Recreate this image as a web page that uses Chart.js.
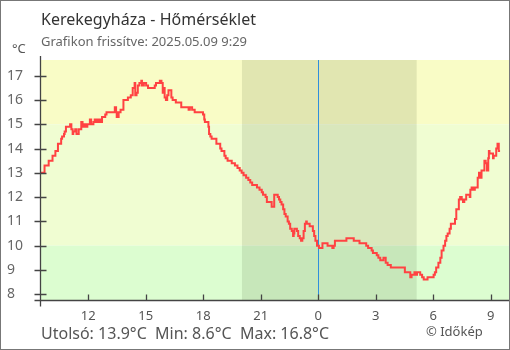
<!DOCTYPE html>
<html>
<head>
<meta charset="utf-8">
<script src="https://cdn.jsdelivr.net/npm/chart.js@4"></script>
<style>
  html, body { margin: 0; padding: 0; background: #fff; }
  canvas { display: block; }
</style>
</head>
<body>
<canvas id="chart" width="510" height="350"></canvas>
<script>
const station = 'Kerekegyháza - Hőmérséklet';
const updated = 'Grafikon frissítve: 2025.05.09 9:29';

// measurements, previous day 9:29 -> today 9:29
const times = [
  '9:29','9:43','9:46','9:56','9:58','10:08','10:09','10:17','10:19','10:25',
  '10:27','10:35','10:38','10:44','10:46','10:50','10:55','11:03','11:07','11:11',
  '11:13','11:19','11:23','11:30','11:32','11:38','11:42','11:47','11:53','11:57',
  '12:05','12:09','12:16','12:20','12:26','12:32','12:37','12:43','12:47','12:53',
  '12:57','13:02','13:23','13:27','13:29','13:35','13:41','13:50','13:56','14:04',
  '14:13','14:19','14:25','14:27','14:31','14:35','14:40','14:46','14:48','14:54',
  '15:01','15:07','15:11','15:28','15:32','15:36','15:44','15:49','15:53','15:55',
  '15:59','16:03','16:07','16:11','16:16','16:20','16:24','16:34','16:38','16:51',
  '16:59','17:14','17:18','17:25','17:33','17:46','17:59','18:03','18:05','18:10',
  '18:16','18:18','18:22','18:26','18:33','18:41','18:47','18:53','18:57','19:06',
  '19:10','19:16','19:29','19:39','19:47','19:54','20:00','20:06','20:14','20:21',
  '20:27','20:33','20:42','20:48','20:56','21:03','21:07','21:15','21:19','21:28',
  '21:34','21:38','21:42','21:44','21:53','21:57','22:01','22:05','22:10','22:14',
  '22:18','22:24','22:28','22:32','22:37','22:41','22:43','22:45','22:49','22:53',
  '22:57','23:02','23:06','23:10','23:14','23:18','23:22','23:24','23:33','23:35',
  '23:43','23:47','23:51','23:56','0:02','0:08','0:13','0:17','0:27','0:29',
  '0:31','0:44','0:48','0:52','0:58','1:13','1:28','1:30','1:51','1:55',
  '2:09','2:11','2:30','2:36','2:47','2:51','2:57','3:03','3:08','3:14',
  '3:24','3:31','3:37','3:47','3:54','4:17','4:25','4:31','4:37','4:41',
  '4:48','4:52','4:56','5:01','5:05','5:09','5:13','5:19','5:25','5:30',
  '5:36','5:42','5:46','6:01','6:05','6:09','6:16','6:22','6:26','6:32',
  '6:37','6:41','6:45','6:51','6:55','6:59','7:04','7:08','7:12','7:14',
  '7:20','7:24','7:29','7:33','7:37','7:43','7:47','7:54','7:56','8:00',
  '8:06','8:10','8:14','8:19','8:23','8:25','8:27','8:31','8:35','8:40',
  '8:44','8:48','8:50','8:52','8:54','8:56','9:02','9:07','9:09','9:13',
  '9:17','9:21','9:25','9:29'
];
const temps = [
  13.0,13.0,13.3,13.3,13.5,13.5,13.7,13.7,13.9,13.9,
  14.2,14.2,14.4,14.5,14.6,14.7,14.9,14.9,15.0,14.8,
  14.6,14.7,14.8,14.6,14.8,14.8,15.1,14.9,15.0,14.9,
  15.0,15.2,15.0,15.1,15.2,15.1,15.2,15.1,15.3,15.3,
  15.4,15.5,15.5,15.7,15.5,15.3,15.5,15.6,16.0,16.0,
  16.1,16.2,16.5,16.7,16.2,16.3,16.6,16.7,16.8,16.6,
  16.7,16.6,16.5,16.5,16.6,16.7,16.7,16.8,16.7,16.3,
  16.5,16.1,16.0,16.2,16.4,16.4,16.1,16.0,15.9,15.9,
  15.7,15.7,15.6,15.7,15.6,15.5,15.5,15.4,15.2,15.1,
  15.1,14.9,14.6,14.5,14.4,14.4,14.2,14.2,14.0,13.9,
  13.7,13.6,13.5,13.4,13.3,13.2,13.1,13.0,12.9,12.8,
  12.7,12.6,12.5,12.5,12.4,12.3,12.2,12.1,12.0,11.8,
  11.8,11.6,11.6,12.1,12.1,12.0,11.9,11.8,11.7,11.5,
  11.3,11.2,11.0,10.9,10.7,10.6,10.4,10.5,10.7,10.7,
  10.6,10.4,10.3,10.2,10.3,10.6,10.9,11.0,10.9,10.8,
  10.8,10.6,10.4,10.2,10.0,9.9,9.9,10.1,10.1,10.1,
  10.0,10.0,9.9,10.0,10.2,10.2,10.2,10.3,10.3,10.2,
  10.2,10.1,10.1,10.0,9.9,9.8,9.7,9.7,9.6,9.5,
  9.4,9.5,9.3,9.2,9.1,9.1,9.1,9.1,8.9,8.9,
  8.9,8.7,8.8,8.8,8.9,8.8,8.9,8.9,8.8,8.7,
  8.6,8.6,8.7,8.7,8.8,8.9,9.1,9.3,9.5,9.8,
  10.0,10.2,10.4,10.5,10.7,10.9,10.9,10.9,11.1,11.5,
  11.5,11.9,12.0,11.9,11.8,11.9,12.1,12.1,12.0,12.3,
  12.4,12.3,12.4,12.4,12.8,13.0,12.8,12.8,13.1,13.1,
  13.5,13.4,13.1,13.1,13.6,13.9,13.8,13.8,13.6,13.7,
  13.7,14.0,14.2,13.9
];

const xTickHours = [12, 15, 18, 21, 24, 27, 30, 33];
const yTicks = [8, 9, 10, 11, 12, 13, 14, 15, 16, 17];
const sunset = '20:01';
const sunrise = '5:08';

// background bands by temperature
const bands = [
  { from: 15, to: 100, color: '#f9fcc6' },
  { from: 10, to: 15, color: '#f0fdd2' },
  { from: -100, to: 10, color: '#dcfdd0' }
];

function toHours(list) {
  let day = 0, prev = -1;
  return list.map(s => {
    const [h, m] = s.split(':').map(Number);
    let v = h + m / 60 + day;
    if (v < prev) { day += 24; v += 24; }
    prev = v;
    return v;
  });
}

const hours = toHours(times);
const points = hours.map((h, i) => ({ x: h, y: temps[i] }));
const [nightStart, nightEnd] = toHours([sunset, sunrise]);

const last = temps[temps.length - 1];
const minT = Math.min(...temps);
const maxT = Math.max(...temps);
const fmt = v => v.toFixed(1) + '°C';
const footer = 'Utolsó: ' + fmt(last) + '  Min: ' + fmt(minT) + '  Max: ' + fmt(maxT);

const backdrop = {
  id: 'backdrop',
  beforeDatasetsDraw(chart) {
    const { ctx, chartArea: a, scales: { x, y } } = chart;
    ctx.save();
    bands.forEach(b => {
      const top = Math.max(a.top, y.getPixelForValue(b.to));
      const bot = Math.min(a.bottom, y.getPixelForValue(b.from));
      ctx.fillStyle = b.color;
      ctx.fillRect(a.left, top, a.right - a.left, bot - top);
    });
    const n1 = x.getPixelForValue(nightStart);
    const n2 = x.getPixelForValue(nightEnd);
    ctx.fillStyle = 'rgba(20,40,0,0.1)';
    ctx.fillRect(n1, a.top, n2 - n1, a.bottom - a.top);
    const mid = Math.round(x.getPixelForValue(24)) + 0.5;
    ctx.strokeStyle = '#2f8fdc';
    ctx.lineWidth = 1;
    ctx.beginPath();
    ctx.moveTo(mid, a.top);
    ctx.lineTo(mid, a.bottom);
    ctx.stroke();
    ctx.restore();
  },
  afterDraw(chart) {
    const { ctx, chartArea: a, scales: { x, y } } = chart;
    ctx.save();
    ctx.strokeStyle = '#444';
    ctx.lineWidth = 1.3;
    const ax = Math.round(a.left) + 0.5;
    const ay = Math.round(a.bottom) + 0.5;
    ctx.beginPath();
    ctx.moveTo(ax, a.top - 4);
    ctx.lineTo(ax, ay + 6);
    ctx.moveTo(ax - 6, ay);
    ctx.lineTo(a.right, ay);
    yTicks.forEach(v => {
      const py = Math.round(y.getPixelForValue(v)) + 0.5;
      ctx.moveTo(ax - 6, py);
      ctx.lineTo(ax + 6, py);
    });
    xTickHours.forEach(v => {
      const px = Math.round(x.getPixelForValue(v)) + 0.5;
      ctx.moveTo(px, ay - 6);
      ctx.lineTo(px, ay);
    });
    ctx.stroke();

    ctx.textBaseline = 'alphabetic';
    ctx.fillStyle = '#333';
    ctx.font = '16px "Noto Sans"';
    ctx.fillText(station, 41, 25);
    ctx.fillStyle = '#666';
    ctx.font = '13px "Noto Sans"';
    ctx.fillText(updated, 41, 46);
    ctx.fillStyle = '#555';
    ctx.fillText('°C', 12, 53);
    ctx.font = '16px "Noto Sans"';
    ctx.fillText(footer, 41, 339);
    ctx.font = '13px "Noto Sans"';
    ctx.fillText('© Időkép', 426, 336);

    ctx.strokeStyle = '#777';
    ctx.lineWidth = 1;
    ctx.strokeRect(0.5, 0.5, chart.width - 1, chart.height - 1);
    ctx.restore();
  }
};

Chart.defaults.font.family = '"Noto Sans", sans-serif';

new Chart(document.getElementById('chart'), {
  type: 'line',
  data: {
    datasets: [{
      data: points,
      borderColor: '#ff4242',
      borderWidth: 2,
      pointRadius: 0,
      stepped: 'after',
      fill: false
    }]
  },
  options: {
    responsive: false,
    animation: false,
    layout: { padding: { top: 60, left: 7, right: 1, bottom: 0 } },
    plugins: { legend: { display: false }, tooltip: { enabled: false } },
    scales: {
      x: {
        type: 'linear',
        min: 9.48,
        max: 33.95,
        afterBuildTicks: s => { s.ticks = xTickHours.map(v => ({ value: v })); },
        afterFit: s => { s.height = 50; },
        grid: { display: false, drawTicks: false },
        border: { display: false },
        ticks: {
          color: '#555',
          font: { size: 13 },
          padding: 8,
          maxRotation: 0,
          autoSkip: false,
          callback: v => String(v % 24)
        }
      },
      y: {
        min: 7.76,
        max: 17.65,
        afterBuildTicks: s => { s.ticks = yTicks.map(v => ({ value: v })); },
        afterFit: s => { s.width = 33; },
        grid: { display: false, drawTicks: false },
        border: { display: false },
        ticks: {
          crossAlign: 'far',
          color: '#666',
          font: { size: 14 },
          autoSkip: false,
          callback: v => String(v)
        }
      }
    }
  },
  plugins: [backdrop]
});
</script>
</body>
</html>
